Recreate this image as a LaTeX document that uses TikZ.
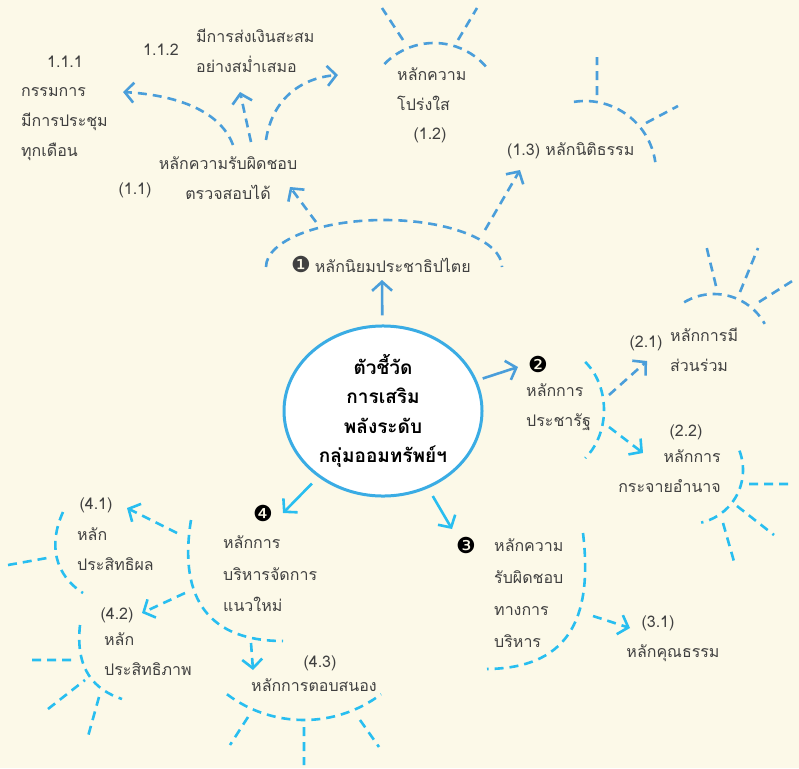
\documentclass[tikz,border=0pt]{standalone}
\usepackage{fontspec}
\setmainfont[Script=Thai]{Loma}
\newfontfamily\symf{DejaVu Sans}
\usetikzlibrary{arrows.meta,shapes.geometric}
\definecolor{bgc}{RGB}{252,249,232}
\definecolor{bluea}{RGB}{74,158,218}
\definecolor{blueb}{RGB}{40,190,240}
\definecolor{rim}{RGB}{58,172,228}
\definecolor{txt}{RGB}{64,64,64}

\begin{document}
\begin{tikzpicture}[x=1pt,y=-1pt,
  lbl/.style={text=txt,inner sep=0pt,font=\fontsize{16}{30}\selectfont},
  num/.style={inner sep=0pt,font=\symf\fontsize{22}{22}\selectfont},
  dsh/.style={line width=2.6pt,dash pattern=on 9pt off 6pt},
  arr/.style={line width=2.6pt,-{Straight Barb[length=9pt,width=20pt]}}]
\fill[bgc] (0,0) rectangle (799,768);

\node[ellipse,draw=rim,line width=3pt,fill=white,minimum width=198pt,minimum height=160pt,
  align=center,font=\bfseries\fontsize{19}{29.5}\selectfont] (main) at (383,411)
  {ตัวชี้วัด\\การเสริม\\พลังระดับ\\กลุ่มออมทรัพย์ฯ};

\node[lbl,anchor=west] (p1) at (291,264) {{\symf\fontsize{22}{22}\selectfont ❶}\hspace{4pt}หลักนิยมประชาธิปไตย};
\node[lbl,align=center] (p11) at (228,178) {หลักความรับผิดชอบ\\ตรวจสอบได้};
\node[lbl] (n11) at (135,190) {(1.1)};
\node[lbl] (n111) at (65,62) {1.1.1};
\node[lbl,align=left,anchor=west] (p111) at (21,124) {กรรมการ\\มีการประชุม\\ทุกเดือน};
\node[lbl] (n112) at (161,50) {1.1.2};
\node[lbl,align=left,anchor=west] (p112) at (196,51) {มีการส่งเงินสะสม\\อย่างสม่ำเสมอ};
\node[lbl,align=left,anchor=west] (p12) at (397,89) {หลักความ\\โปร่งใส};
\node[lbl] (n12) at (430,135) {(1.2)};
\node[lbl,anchor=west] (p13) at (507,151) {(1.3) หลักนิติธรรม};

\node[num] (n2) at (538,364) {❷};
\node[lbl,align=left,anchor=west] (p2) at (526,407) {หลักการ\\ประชารัฐ};
\node[lbl] (n21) at (646,343) {(2.1)};
\node[lbl,align=left,anchor=west] (p21) at (670,350) {หลักการมี\\ส่วนร่วม};
\node[lbl] (n22) at (686,432) {(2.2)};
\node[lbl,align=right,anchor=east] (p22) at (721,471) {หลักการ\\กระจายอำนาจ};

\node[num] (n3) at (466,545) {❸};
\node[lbl,align=left,anchor=west,font=\fontsize{16}{32}\selectfont] (p3) at (494,593) {หลักความ\\รับผิดชอบ\\ทางการ\\บริหาร};
\node[lbl] (n31) at (658,623) {(3.1)};
\node[lbl] (p31) at (673,653) {หลักคุณธรรม};

\node[num] (n4) at (263,513) {❹};
\node[lbl,align=left,anchor=west,font=\fontsize{16}{31.5}\selectfont] (p4) at (223,574) {หลักการ\\บริหารจัดการ\\แนวใหม่};
\node[lbl] (n41) at (96,505) {(4.1)};
\node[lbl,align=left,anchor=west] (p41) at (77,549) {หลัก\\ประสิทธิผล};
\node[lbl] (n42) at (117,615) {(4.2)};
\node[lbl,align=left,anchor=west] (p42) at (104,654) {หลัก\\ประสิทธิภาพ};
\node[lbl] (n43) at (320,663) {(4.3)};
\node[lbl] (p43) at (314,685) {หลักการตอบสนอง};

\draw[dsh,bluea] (266,267) arc[start angle=180,end angle=0,x radius=118pt,y radius=47pt];
\draw[dsh,bluea] ([shift={(136:69pt)}]434,112) arc[start angle=136,end angle=40,radius=69pt];
\draw[dsh,bluea] (403,40) -- (382,8) (458,40) -- (477,8);
\draw[dsh,bluea] ([shift={(99:71pt)}]585,172) arc[start angle=99,end angle=8,radius=71pt];
\draw[dsh,bluea] (597,95) -- (597,57) (646,123) -- (678,106);

\draw[dsh,blueb] ([shift={(52:49pt and 61pt)}]555,410) arc[start angle=52,end angle=-52,x radius=49pt,y radius=61pt];
\draw[dsh,bluea] ([shift={(121:58pt)}]714,352) arc[start angle=121,end angle=29,radius=58pt];
\draw[dsh,bluea] (716,286) -- (706,245) (740,292) -- (758,248) (759,302) -- (797,278);
\draw[dsh,blueb] ([shift={(21:54pt)}]689,470) arc[start angle=21,end angle=-77,radius=54pt];
\draw[dsh,blueb] (749,484) -- (791,484) (737,506) -- (774,535) (723,523) -- (735,565);

\draw[dsh,blueb] (583,533) .. controls (592,610) and (575,668) .. (487,669);

\draw[dsh,blueb] (191,520) .. controls (178,600) and (210,641) .. (283,641);
\draw[dsh,blueb] (63,512) .. controls (48,545) and (55,575) .. (83,593);
\draw[dsh,blueb] (8,565) -- (47,558);
\draw[dsh,blueb] (80,625) .. controls (75,670) and (95,690) .. (122,699);
\draw[dsh,blueb] (32,660) -- (73,660) (48,709) -- (85,680) (99,697) -- (87,740);
\draw[dsh,blueb] ([shift={(-127:128pt)}]304,592) arc[start angle=-127,end angle=-53,radius=128pt];
\draw[dsh,blueb] (248,717) -- (230,745) (304,727) -- (304,765) (360,720) -- (379,747);

\coordinate (t1) at (382,280);
\coordinate (t2) at (518,367);
\coordinate (t3) at (452,529);
\coordinate (t4) at (283,513);
\draw[arr,bluea,shorten <=9pt] (main) -- (t1);
\draw[arr,bluea,shorten <=6pt] (main) -- (t2);
\draw[arr,blueb,shorten <=9pt] (main) -- (t3);
\draw[arr,blueb,shorten <=9pt] (main) -- (t4);

\coordinate (c11a) at (233,145); \coordinate (t111) at (123,92);
\coordinate (c11b) at (251,142); \coordinate (t112a) at (240,92);
\coordinate (c11c) at (266,140); \coordinate (t112b) at (338,75);
\coordinate (c1a) at (316,222);  \coordinate (t11) at (290,187);
\coordinate (c1b) at (485,230);  \coordinate (t13) at (520,170);
\draw[arr,dsh,bluea] (c11a) .. controls (220,110) and (175,95) .. (t111);
\draw[arr,dsh,bluea] (c11b) -- (t112a);
\draw[arr,dsh,bluea] (c11c) .. controls (272,100) and (300,78) .. (t112b);
\draw[arr,dsh,bluea] (c1a) -- (t11);
\draw[arr,dsh,bluea] (c1b) -- (t13);

\coordinate (c2a) at (609,395); \coordinate (t21) at (647,361);
\coordinate (c2b) at (609,427); \coordinate (t22) at (643,453);
\draw[arr,dsh,bluea] (c2a) -- (t21);
\draw[arr,dsh,blueb] (c2b) -- (t22);

\coordinate (c3) at (593,616); \coordinate (t31) at (630,628);
\draw[arr,dsh,blueb] (c3) -- (t31);

\coordinate (c4a) at (177,533); \coordinate (t41) at (127,508);
\coordinate (c4b) at (185,593); \coordinate (t42) at (142,613);
\coordinate (c4c) at (251,643); \coordinate (t43) at (253,670);
\draw[arr,dsh,blueb] (c4a) -- (t41);
\draw[arr,dsh,blueb] (c4b) -- (t42);
\draw[arr,dsh,blueb] (c4c) -- (t43);
\end{tikzpicture}
\end{document}
